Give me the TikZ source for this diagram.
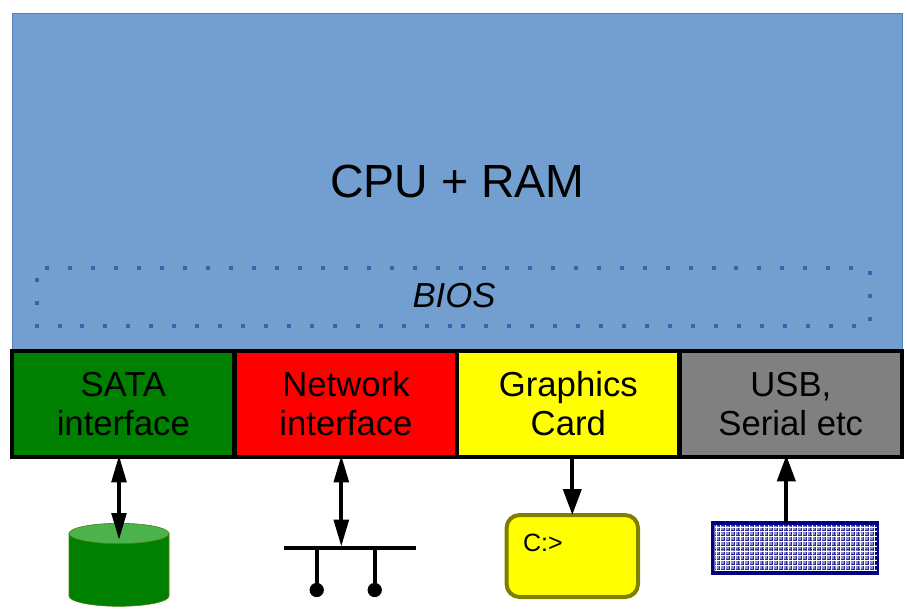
\documentclass[tikz,border=0pt]{standalone}
\usepackage{fontspec}
\setmainfont{Liberation Sans}
\usetikzlibrary{arrows.meta}
\definecolor{cpublue}{HTML}{729FCF}
\definecolor{cpuedge}{HTML}{5B80B8}
\definecolor{dotblue}{HTML}{3366B2}
\definecolor{diskgreen}{HTML}{008000}
\definecolor{disktop}{HTML}{4CB34C}
\definecolor{diskedge}{HTML}{4F7F10}
\definecolor{screenedge}{HTML}{808000}
\definecolor{keygrey}{HTML}{808080}
\definecolor{keynavy}{HTML}{000080}
\definecolor{keypale}{HTML}{8C8CCB}
\definecolor{pureyellow}{RGB}{255,255,0}
\definecolor{purered}{RGB}{255,0,0}
\tikzset{
  every node/.style={outer sep=0pt},
  card/.style={draw=black,line width=4pt,minimum width=222.3pt,minimum height=106.6pt,
    inner sep=0pt,align=center,text=black,font=\fontsize{34.7}{39}\selectfont},
  link/.style={draw=black,line width=4pt},
  narrowtip/.tip={Triangle[length=27pt,width=14.5pt]},
  widetip/.tip={Triangle[length=26pt,width=18pt]},
  stemline/.style={draw=black,line width=3.6pt},
  tapdot/.style={circle,fill=black,inner sep=0pt,minimum size=14.3pt},
  biosdots/.style={draw=dotblue,line width=4pt,dash pattern=on 4pt off 18.97pt},
}
\begin{document}
\begin{tikzpicture}[x=1pt,y=-1pt]
\useasboundingbox (0,0) rectangle (907,608);
% CPU
\node[draw=cpuedge,fill=cpublue,line width=1pt,minimum width=890pt,minimum height=337pt,inner sep=0pt] (cpu) at (457,181.5) {};
\node[font=\fontsize{46.5}{50}\selectfont,text=black] (cputext) at (457.5,181) {CPU + RAM};
\node[minimum width=833pt,minimum height=58pt,inner sep=0pt] (bios) at (453,297) {};
\coordinate (biosstart) at (461.3,326);
\draw[biosdots] (biosstart) -- (bios.south east) -- (bios.north east) -- (bios.north west) -- (bios.south west) -- (bios.south);
\node[font=\fontsize{34.7}{39}\selectfont\itshape,text=black] (biostext) at (454,296) {BIOS};
% cards
\node[card,fill=diskgreen] (sata) at (123.3,404) {SATA\\interface};
\node[card,fill=purered] (net) at (346,404) {Network\\interface};
\node[card,fill=pureyellow] (gfx) at (568.3,404) {Graphics\\Card};
\node[card,fill=keygrey] (usb) at (790.8,404) {USB,\\Serial etc};
% disk
\node[minimum width=100pt,minimum height=83pt,inner sep=0pt] (disk) at (119,564.8) {};
\draw[draw=diskedge,line width=0.6pt,fill=diskgreen] (69,533.5) -- (69,596) arc[start angle=180,end angle=360,x radius=50pt,y radius=10.3pt] -- (169,533.5) -- cycle;
\draw[draw=diskedge,line width=0.6pt,fill=disktop] (119,533.5) ellipse[x radius=50pt,y radius=10.2pt];
\coordinate (diskport) at (119,540);
\draw[link,shorten <=-2pt,narrowtip-narrowtip] (sata.south -| diskport) -- (diskport);
% network
\coordinate (busport) at (341.3,546.7);
\coordinate (busL) at (283.7,548);
\coordinate (busR) at (415.7,548);
\node[tapdot] (tapA) at (316.7,590) {};
\node[tapdot] (tapB) at (374.7,590) {};
\draw[stemline] (busL) -- (busR);
\draw[stemline] (tapA) -- (tapA |- busL);
\draw[stemline] (tapB) -- (tapB |- busL);
\draw[link,shorten <=-2pt,narrowtip-narrowtip] (net.south -| busport) -- (busport);
% screen
\node[draw=screenedge,fill=pureyellow,line width=4pt,rounded corners=13pt,minimum width=131.5pt,minimum height=82pt,inner sep=0pt] (screen) at (572.3,556) {};
\node[font=\fontsize{25}{28}\selectfont,text=black,anchor=base west,inner sep=0pt] (prompt) at (523,551) {C:>};
\draw[link,-widetip] (gfx.south -| screen.north) -- (screen.north);
% keyboard
\node[draw=keynavy,fill=keypale,line width=3.6pt,minimum width=164.5pt,minimum height=50pt,inner sep=0pt] (keys) at (794.8,548) {};
\begin{scope}
\clip (714.5,525) rectangle (877,571);
\foreach \k in {0,...,34} {
  \draw[keynavy!70!keypale,line width=0.5pt] (714.6+4.8*\k,525) -- (714.6+4.8*\k,571);
}
\foreach \k in {0,...,10} {
  \draw[keynavy!70!keypale,line width=0.5pt] (714.5,525.6+4.8*\k) -- (877,525.6+4.8*\k);
}
\foreach \k in {0,...,34} {
  \draw[white,line width=0.8pt] (715.9+4.8*\k,525) -- (715.9+4.8*\k,571);
}
\foreach \k in {0,...,10} {
  \draw[white,line width=0.8pt] (714.5,526.9+4.8*\k) -- (877,526.9+4.8*\k);
}
\end{scope}
\coordinate (keyport) at (786.3,523);
\draw[link,shorten >=-2pt,-widetip] (keyport) -- (usb.south -| keyport);
\end{tikzpicture}
\end{document}
